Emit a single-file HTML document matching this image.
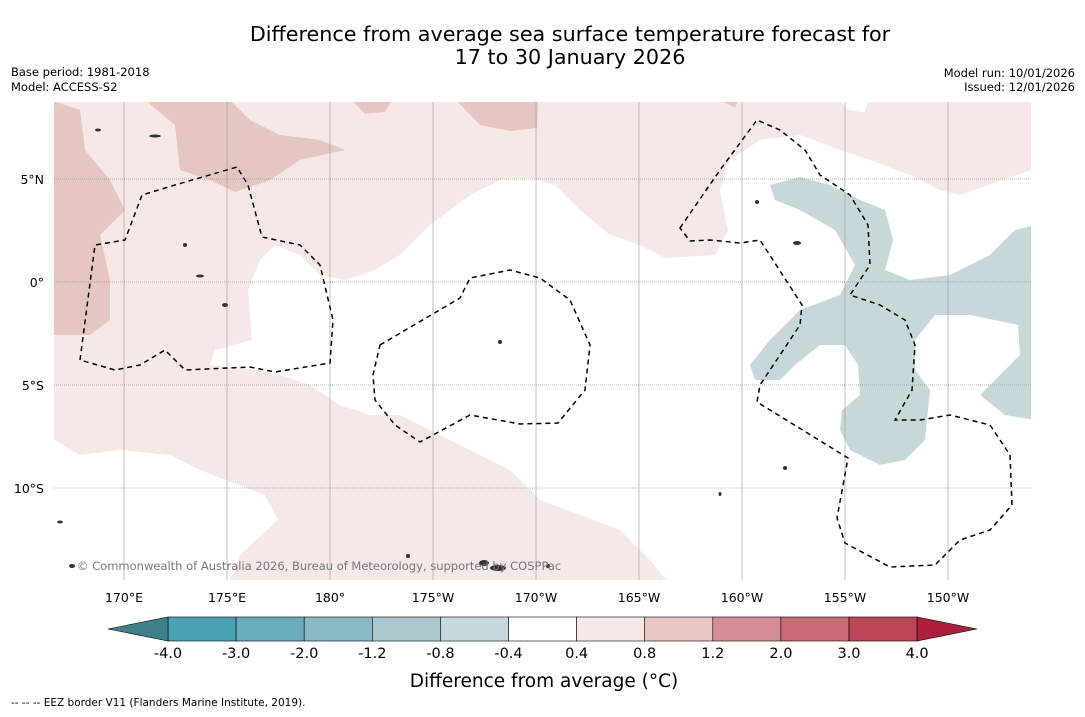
<!DOCTYPE html>
<html><head><meta charset="utf-8"><style>
body{margin:0;background:#fff;width:1085px;height:713px;overflow:hidden;font-family:"DejaVu Sans","Liberation Sans",sans-serif}
</style></head><body>
<svg id="s" width="1085" height="713" xmlns="http://www.w3.org/2000/svg" font-family="DejaVu Sans, Liberation Sans, sans-serif">
<text x="570" y="41" text-anchor="middle" font-size="20.7">Difference from average sea surface temperature forecast for</text>
<text x="570" y="64" text-anchor="middle" font-size="20.7">17 to 30 January 2026</text>
<text x="11" y="76" font-size="11.5">Base period: 1981-2018</text>
<text x="11" y="91" font-size="11.5">Model: ACCESS-S2</text>
<text x="1075" y="77" font-size="11.5" text-anchor="end">Model run: 10/01/2026</text>
<text x="1075" y="91" font-size="11.5" text-anchor="end">Issued: 12/01/2026</text>
<defs><clipPath id="mc"><rect x="54" y="102" width="977" height="478"/></clipPath></defs>
<g clip-path="url(#mc)">
<rect x="54" y="102" width="977" height="478" fill="#f5e8e6"/>
<path fill="#fff" d="M1031,170 L960,195 940,190 910,175 870,160 840,150 800,135 760,140 730,160 720,190 728,230 715,255 665,258 640,245 610,235 580,210 555,185 530,178 505,178 470,195 430,225 400,255 375,270 345,280 320,275 300,255 275,245 260,260 248,290 252,340 215,350 210,365 255,370 280,375 310,385 340,405 370,415 400,415 430,430 470,450 510,470 540,500 580,515 620,530 650,560 670,585 1031,585Z"/>
<path fill="#fff" d="M840,100 848,110 865,112 868,100Z"/>
<path fill="#fff" d="M54,440 80,455 120,450 170,455 200,470 265,495 278,520 240,555 228,585 50,585Z"/>
<g fill="#e6c6c2">
<path d="M50,100 80,110 85,150 110,180 125,210 100,235 110,280 110,320 90,335 50,335Z"/>
<path d="M145,100 175,125 180,170 210,180 235,192 270,180 300,160 345,150 320,140 280,135 250,120 230,100Z"/>
<path d="M352,100 365,114 385,112 392,100Z"/>
<path d="M456,100 480,125 510,131 537,128 538,100Z"/>
<path d="M720,100 735,108 738,100Z"/>
</g>
<path fill="#c6d8da" d="M770,185 800,177 830,185 860,200 885,210 893,240 885,270 910,280 950,275 990,255 1015,230 1035,225 1035,420 1005,415 980,395 1000,375 1020,355 1018,325 970,315 935,315 915,340 915,370 930,390 925,440 905,460 880,465 850,450 840,430 842,410 860,395 858,365 845,345 820,345 795,365 780,380 755,380 750,365 770,340 800,310 840,295 855,265 835,230 800,210 775,200Z"/>
<g id="grid"></g>
<g fill="none" stroke="#000" stroke-width="1.5" stroke-dasharray="5,4">
<path d="M80,360 95,245 125,240 142,195 175,185 237,167 248,185 262,237 300,245 320,265 333,320 330,363 275,372 250,367 185,370 165,350 140,365 115,370Z"/>
<path d="M380,345 460,298 470,278 510,270 540,278 570,300 590,345 585,390 558,423 520,424 470,415 420,442 395,425 375,400 373,375Z"/>
<path d="M680,228 720,170 757,120 780,130 805,150 820,175 850,195 868,225 870,265 850,295 880,305 905,320 915,345 912,390 895,420 920,420 950,415 990,425 1010,455 1012,505 990,530 960,540 935,565 890,567 845,543 837,518 848,458 757,402 760,385 800,325 802,305 760,240 740,243 710,240 690,241Z"/>
</g>
<g fill="#333">
<ellipse cx="498" cy="568" rx="8" ry="3"/><ellipse cx="484" cy="563" rx="5" ry="3"/><ellipse cx="72" cy="566" rx="3" ry="2"/><ellipse cx="60" cy="522" rx="3" ry="1.5"/>
<ellipse cx="797" cy="243" rx="4" ry="2"/><ellipse cx="757" cy="202" rx="2" ry="2"/><ellipse cx="155" cy="136" rx="6" ry="1.5"/><ellipse cx="185" cy="245" rx="2" ry="2"/>
<ellipse cx="200" cy="276" rx="4" ry="1.5"/><ellipse cx="225" cy="305" rx="3" ry="2"/><ellipse cx="500" cy="342" rx="2" ry="2"/><ellipse cx="785" cy="468" rx="2" ry="2"/>
<ellipse cx="720" cy="494" rx="1.5" ry="2"/><ellipse cx="408" cy="556" rx="2" ry="2"/><ellipse cx="548" cy="566" rx="2" ry="2"/><ellipse cx="98" cy="130" rx="3" ry="1.5"/>
</g>
<text x="77" y="570" font-size="11.5" fill="#777">© Commonwealth of Australia 2026, Bureau of Meteorology, supported by COSPPac</text>
</g>
<g id="axes"></g>
<g id="cbar"></g>
<text x="544" y="687" text-anchor="middle" font-size="18.5">Difference from average (°C)</text>
<text x="11" y="706" font-size="10.5">--  --  -- EEZ border V11 (Flanders Marine Institute, 2019).</text>
</svg>
<script>
const lonLabels=["170°E","175°E","180°","175°W","170°W","165°W","160°W","155°W","150°W"];
const lonValues=[170,175,180,185,190,195,200,205,210];
const latLabels=["5°N","0°","5°S","10°S"];
const latValues=[5,0,-5,-10];
const cbLevels=["-4.0","-3.0","-2.0","-1.2","-0.8","-0.4","0.4","0.8","1.2","2.0","3.0","4.0"];
const cbColors=["#4aa3b2","#69adba","#8abac6","#aac8cd","#c6d9dc","#ffffff","#f5e8e6","#e8c6c2","#d68e96","#ca6a74","#bd4656"];
const cbExtLow="#3f818a", cbExtHigh="#ae1f3b";
const NS="http://www.w3.org/2000/svg";
const xLon=l=>124+(l-170)*20.6, yLat=v=>282-v*20.6;
function mk(t,a,p){const e=document.createElementNS(NS,t);for(const k in a)e.setAttribute(k,a[k]);p.appendChild(e);return e;}
const g=document.getElementById('grid'),ax=document.getElementById('axes'),cb=document.getElementById('cbar');
lonValues.forEach((l,i)=>{
 const ln=mk('line',{x1:xLon(l),x2:xLon(l),y1:102,y2:580,stroke:'#999','stroke-width':0.6},g);
 
 
 const t=mk('text',{x:xLon(l),y:602,'text-anchor':'middle','font-size':12.5},ax);t.textContent=lonLabels[i];
 
 
});
latValues.forEach((v,i)=>{
 const ln=mk('line',{x1:54,x2:1031,y1:yLat(v),y2:yLat(v),stroke:'#777','stroke-width':0.6,'stroke-dasharray':'1,1'},g);
 
 
 const t=mk('text',{x:44,y:yLat(v)+5,'text-anchor':'end','font-size':12.5},ax);t.textContent=latLabels[i];
 
 
});
const cx0=168,cw=68.1,cy=617,ch=24;
cbColors.forEach((c,i)=>{
 const r=mk('rect',{x:cx0+i*cw,y:cy,width:cw,height:ch,fill:c,stroke:'#000','stroke-width':0.6},cb);
 
 
});
const end=cx0+cbColors.length*cw;
const pl=mk('polygon',{points:`${cx0},${cy} ${cx0},${cy+ch} 108,${cy+ch/2}`,fill:cbExtLow,stroke:'#000','stroke-width':0.6},cb);


const ph=mk('polygon',{points:`${end},${cy} ${end},${cy+ch} 977,${cy+ch/2}`,fill:cbExtHigh,stroke:'#000','stroke-width':0.6},cb);


cbLevels.forEach((s,i)=>{
 const t=mk('text',{x:cx0+i*cw,y:658,'text-anchor':'middle','font-size':14.5},cb);t.textContent=s;
 
 
});
</script>
</body></html>
